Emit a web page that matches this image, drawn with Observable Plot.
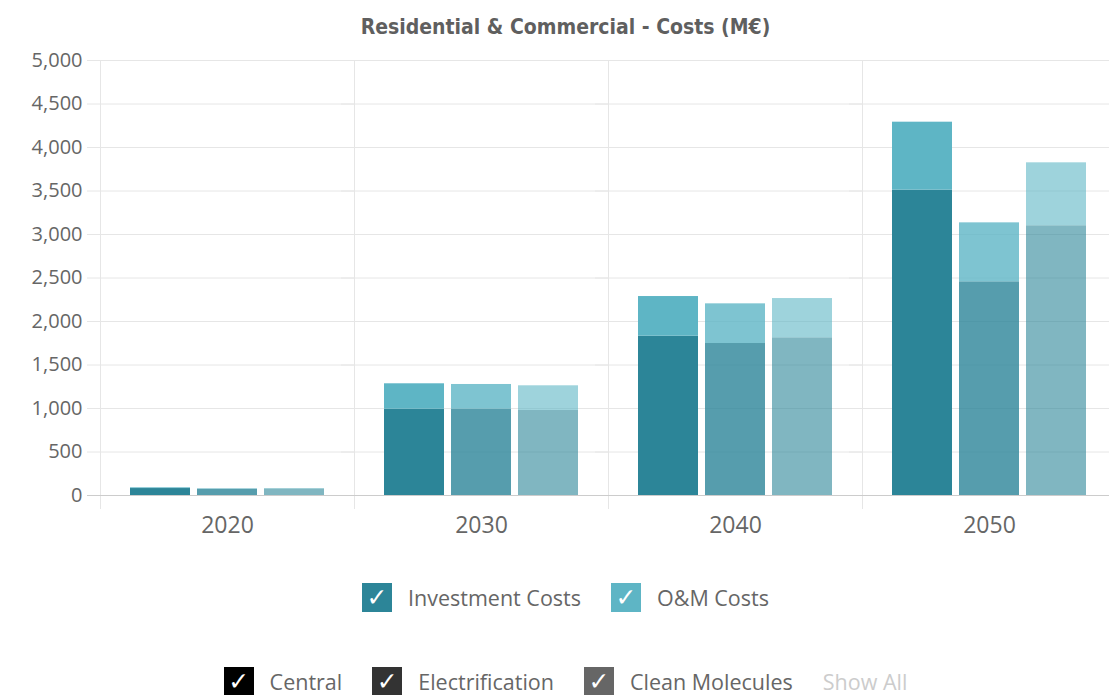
<!DOCTYPE html>
<html>
<head>
<meta charset="utf-8">
<script src="https://cdn.jsdelivr.net/npm/d3@7"></script>
<script src="https://cdn.jsdelivr.net/npm/@observablehq/plot@0.6"></script>
<style>
  html, body { margin: 0; padding: 0; background: #fff; overflow: hidden; width: 1109px; height: 695px; }
  #title { position: absolute; left: 0; top: 15px; width: 1131px; text-align: center;
           font-family: "DejaVu Sans Condensed", "DejaVu Sans", sans-serif; font-weight: bold; font-size: 21px; color: #5f5f5f; }
  #chart { position: absolute; left: 0; top: 50px; width: 1120px; }
  #chart svg { max-width: none; }
  .legend { position: absolute; left: 0; width: 1131px; display: flex; justify-content: center; align-items: center;
            font-family: "Open Sans", sans-serif; font-size: 21.5px; color: #666; }
  .item { display: flex; align-items: center; margin: 0 15px; }
  .box { width: 30px; height: 29px; color: #fff; font-family: "DejaVu Sans", sans-serif; font-size: 25px; line-height: 29px;
         display: flex; align-items: center; justify-content: center; margin-right: 16px; }
  #legend1 { top: 583px; }
  #legend2 { top: 667px; }
</style>
</head>
<body>
<div id="title"></div>
<div id="chart"></div>
<div id="legend1" class="legend"></div>
<div id="legend2" class="legend"></div>
<script>
const title = "Residential & Commercial - Costs (M€)";
const years = ["2020", "2030", "2040", "2050"];
const scenarios = ["Central", "Electrification", "Clean Molecules"];
const costTypes = ["Investment Costs", "O&M Costs"];

// values in M€
const investCentral = [80, 992, 1831, 3510];
const investElectrification = [72, 992, 1747, 2456];
const investCleanMolecules = [75, 977, 1812, 3100];
const omCentral = [8, 292, 456, 781];
const omElectrification = [5, 284, 456, 678];
const omCleanMolecules = [5, 284, 452, 724];

const yTicks = [0, 500, 1000, 1500, 2000, 2500, 3000, 3500, 4000, 4500, 5000];

// styles
const costColors = ["#2c8598", "#5eb5c5"];
const scenarioOpacity = [1, 0.8, 0.6];
const scenarioLegendColors = ["#000000", "#333333", "#666666"];

const investBy = {"Central": investCentral, "Electrification": investElectrification, "Clean Molecules": investCleanMolecules};
const omBy = {"Central": omCentral, "Electrification": omElectrification, "Clean Molecules": omCleanMolecules};

const rows = [];
years.forEach((year, i) => {
  scenarios.forEach((s, j) => {
    rows.push({year, scenario: s, type: costTypes[0], value: investBy[s][i], op: scenarioOpacity[j]});
    rows.push({year, scenario: s, type: costTypes[1], value: omBy[s][i], op: scenarioOpacity[j]});
  });
});

document.getElementById("title").textContent = title;

const chart = Plot.plot({
  width: 1120,
  height: 495,
  marginLeft: 100,
  marginRight: 4,
  marginTop: 10,
  marginBottom: 50,
  style: {fontFamily: "'Open Sans', sans-serif", fontSize: "20px", color: "#666", background: "transparent", overflow: "visible", maxWidth: "none"},
  fx: {domain: years, padding: 0, label: null},
  x: {domain: scenarios, paddingInner: 0.1, paddingOuter: 0.43, axis: null},
  y: {domain: [0, 5000], label: null},
  color: {domain: costTypes, range: costColors},
  opacity: {type: "identity"},
  marks: [
    Plot.gridY(yTicks, {stroke: "#e6e6e6", strokeOpacity: 1, insetLeft: -13}),
    Plot.frame({anchor: "left", stroke: "#e6e6e6", strokeOpacity: 1, insetBottom: -13}),
    Plot.barY(rows, {fx: "year", x: "scenario", y: "value", fill: "type", fillOpacity: "op", inset: 0}),
    Plot.ruleY([0], {stroke: "#cccccc", insetLeft: -13}),
    Plot.axisY(yTicks, {tickSize: 0, tickPadding: 18, tickFormat: d3.format(","), fontSize: 20, fill: "#666", label: null, style: {letterSpacing: "2px"}}),
    Plot.axisFx({anchor: "bottom", tickSize: 0, tickPadding: 21, fontSize: 23, fill: "#666", label: null, style: {letterSpacing: "1px"}})
  ]
});
document.getElementById("chart").appendChild(chart);

function makeItem(label, color, textColor) {
  const item = document.createElement("div");
  item.className = "item";
  if (color) {
    const box = document.createElement("div");
    box.className = "box";
    box.style.background = color;
    box.textContent = "✓";
    item.appendChild(box);
  }
  const span = document.createElement("span");
  span.textContent = label;
  if (textColor) span.style.color = textColor;
  item.appendChild(span);
  return item;
}
const l1 = document.getElementById("legend1");
costTypes.forEach((c, i) => l1.appendChild(makeItem(c, costColors[i])));
const l2 = document.getElementById("legend2");
scenarios.forEach((s, i) => l2.appendChild(makeItem(s, scenarioLegendColors[i])));
l2.appendChild(makeItem("Show All", null, "#cccccc"));
</script>
</body>
</html>
